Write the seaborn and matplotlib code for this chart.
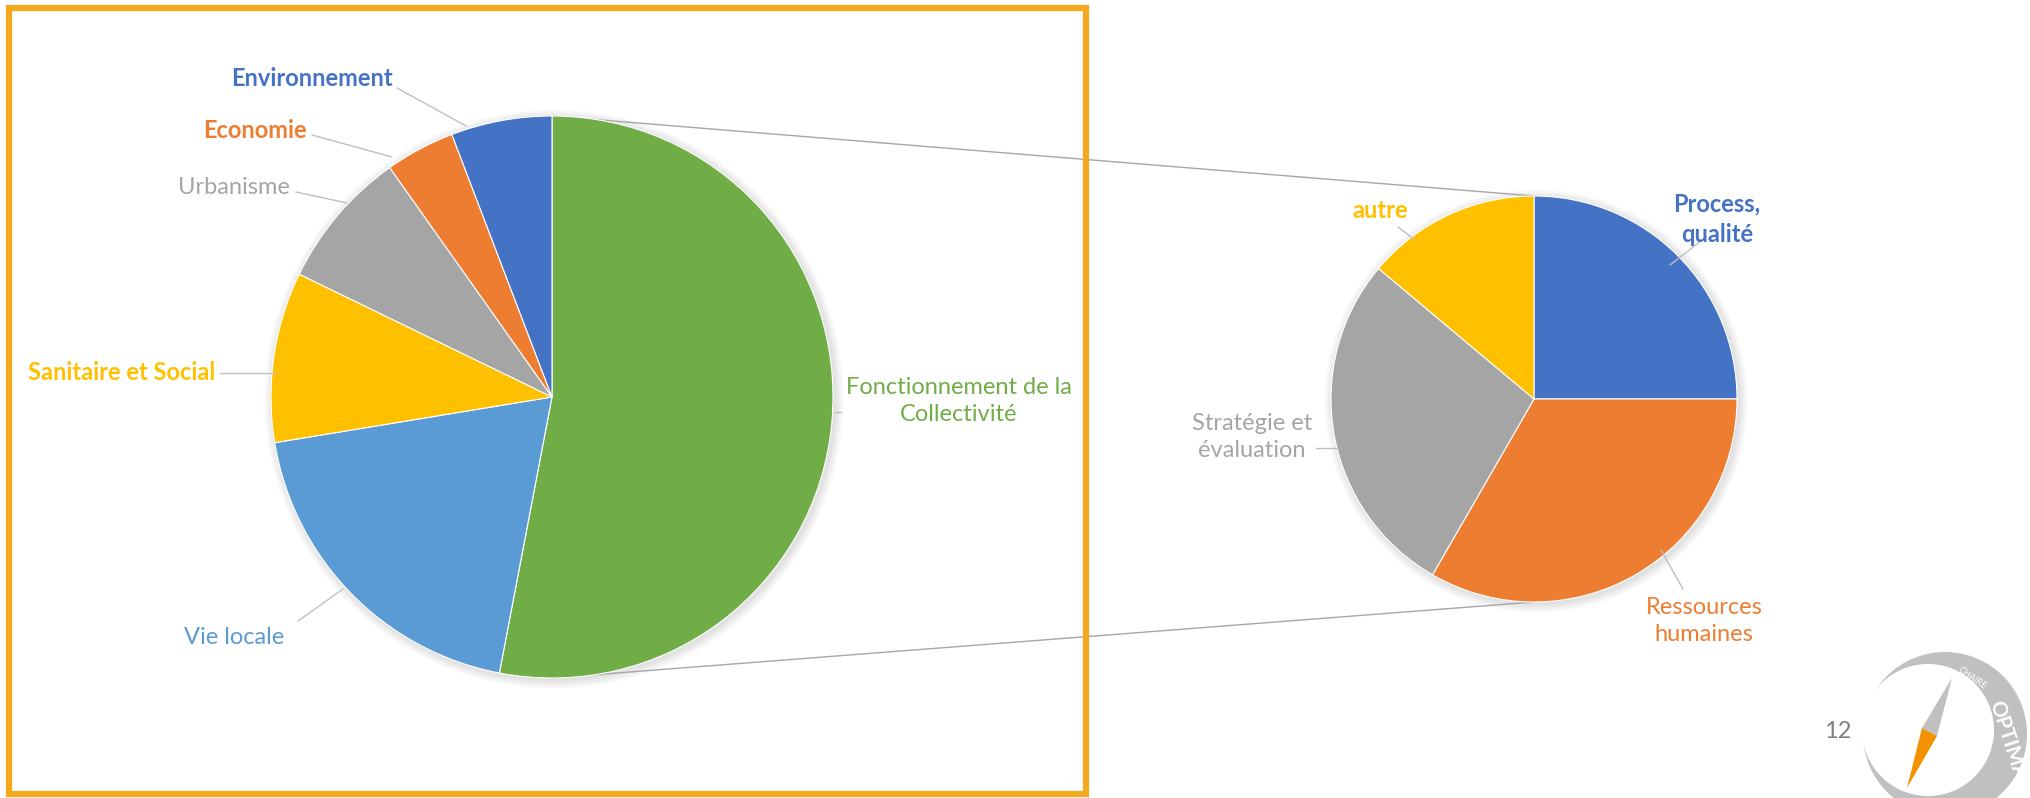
import numpy as np
import matplotlib.pyplot as plt
import seaborn as sns
from matplotlib.patches import Circle, Polygon, Rectangle

sns.set_theme(style="white")
plt.rcParams['font.family'] = ['Lato', 'DejaVu Sans']

W, H = 2030, 798

# main pie (share of themes)
main_labels = ["Fonctionnement de la\nCollectivité", "Vie locale", "Sanitaire et Social",
               "Urbanisme", "Economie", "Environnement"]
main_values = [53.0, 19.4, 9.8, 8.0, 4.0, 5.8]
main_colors = ["#70AD47", "#5B9BD5", "#FFC000", "#A5A5A5", "#ED7D31", "#4472C4"]

# breakdown of "Fonctionnement de la Collectivité"
sub_labels = ["Process,\nqualité", "Ressources\nhumaines", "Stratégie et\névaluation", "autre"]
sub_values = [9, 12, 10, 5]
sub_colors = ["#4472C4", "#ED7D31", "#A5A5A5", "#FFC000"]


def Y(y):
    return H - y


fig = plt.figure(figsize=(W / 100, H / 100), dpi=100)
ax = fig.add_axes([0, 0, 1, 1])

c1, r1 = (552, Y(397)), 281
c2, r2 = (1534, Y(399)), 203

# soft shadow like the office chart
for k in range(6):
    for c, r in [(c1, r1), (c2, r2)]:
        ax.add_patch(Circle((c[0] + 2, c[1] - 2), r + 1 + k * 1.5, color="black",
                            alpha=0.018, lw=0, zorder=0))

# connector lines between the two pies (behind the wedges)
ax.plot([c1[0], c2[0]], [c1[1] + r1, c2[1] + r2], color="#A6A6A6", lw=1.0, zorder=0.5)
ax.plot([c1[0], c2[0]], [c1[1] - r1, c2[1] - r2], color="#A6A6A6", lw=1.0, zorder=0.5)

wp = dict(linewidth=0.8, edgecolor="white")
ax.pie(main_values, colors=main_colors, startangle=90, counterclock=False,
       center=c1, radius=r1, wedgeprops=wp)
ax.pie(sub_values, colors=sub_colors, startangle=90, counterclock=False,
       center=c2, radius=r2, wedgeprops=wp)

# label placement: (x, y, weight, leader x0, y0, x1, y1) in picture pixels
main_pos = [(959, 401, "normal", (835, 412, 841, 412)),
            (234, 637, "normal", (298, 621, 343, 589)),
            (122, 373, "bold", (220, 373, 276, 373)),
            (234, 188, "normal", (296, 192, 347, 203)),
            (255, 131, "bold", (312, 135, 392, 157)),
            (312, 78, "bold", (397, 88, 466, 126))]
sub_pos = [(1717, 219, "bold", (1706, 237, 1670, 265)),
           (1704, 621, "normal", (1683, 589, 1661, 550)),
           (1252, 437, "normal", (1316, 448, 1338, 448)),
           (1380, 211, "bold", (1398, 227, 1415, 240))]

for labels, colors, pos in [(main_labels, main_colors, main_pos), (sub_labels, sub_colors, sub_pos)]:
    for lab, col, (x, y, wt, lead) in zip(labels, colors, pos):
        ax.text(x, Y(y), lab, color=col, fontsize=17, fontweight=wt, ha="center",
                va="center", linespacing=1.4, zorder=5)
        ax.plot([lead[0], lead[2]], [Y(lead[1]), Y(lead[3])], color="#BFBFBF", lw=1.0, zorder=4)

# orange frame around the main pie
ax.add_patch(Rectangle((9, Y(794)), 1077, 786, fill=False, edgecolor="#F4A81D", lw=4.5, zorder=6))

# page number and logo
ax.text(1838, Y(732), "12", color="#7F7F7F", fontsize=17, ha="center", va="center")
ax.add_patch(Circle((1945, Y(734)), 82, color="#C0C0C0", lw=0, zorder=2))
ax.add_patch(Circle((1928, Y(730)), 66, color="white", lw=0, zorder=3))
ax.add_patch(Polygon([(1952, Y(678)), (1937, Y(736)), (1922, Y(728))], color="#C0C0C0", lw=0, zorder=4))
ax.add_patch(Polygon([(1922, Y(728)), (1937, Y(736)), (1907, Y(788))], color="#F39200", lw=0, zorder=4))
ax.text(2008, Y(740), "OPTIMA", color="white", fontsize=15, fontweight="bold", rotation=-72,
        ha="center", va="center", zorder=5)
ax.text(1972, Y(678), "CHAIRE", color="white", fontsize=6.5, rotation=-35,
        ha="center", va="center", zorder=5)

ax.set_xlim(0, W)
ax.set_ylim(0, H)
ax.set_aspect("equal")
ax.axis("off")

fig.savefig("out.png", dpi=100, facecolor="white")
